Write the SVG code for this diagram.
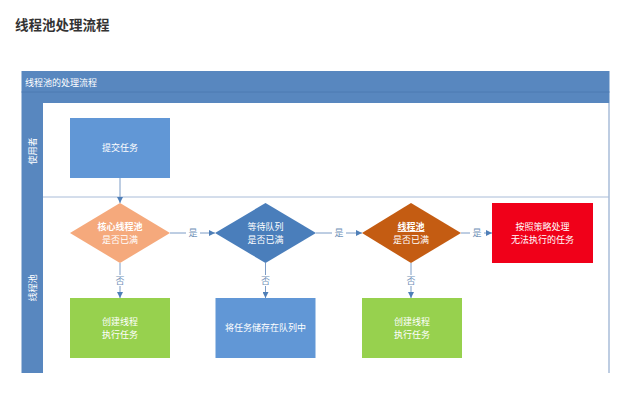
<svg xmlns="http://www.w3.org/2000/svg" width="621" height="411" viewBox="0 0 621 411">
<defs>
<style>
text{font-family:"Noto Sans CJK SC","Noto Sans",sans-serif;}
.t{font-size:9px;fill:#ffffff;text-anchor:middle;}
.lbl{font-size:9px;fill:#6f8fb8;text-anchor:middle;}
.c{stroke:#7d9cc6;stroke-width:1;fill:none;}
</style>
<marker id="ah" viewBox="0 0 10 10" refX="10" refY="5" markerWidth="6" markerHeight="6" orient="auto" markerUnits="userSpaceOnUse">
<path d="M0,0 L10,5 L0,10 z" fill="#4f7fb8"/>
</marker>
</defs>
<rect width="621" height="411" fill="#ffffff"/>
<text x="15" y="30" style="font-size:13.5px;font-weight:bold;fill:#333333">线程池处理流程</text>
<g id="frame">
<rect x="21.5" y="71" width="588" height="32" fill="#5887bf"/>
<line x1="21.5" y1="92" x2="609.5" y2="92" stroke="#4d7ab2" stroke-width="1"/>
<text x="25" y="85.5" style="font-size:9px;fill:#ffffff">线程池的处理流程</text>
<rect x="21.5" y="103" width="21.5" height="270" fill="#5887bf"/>
<line x1="609" y1="103" x2="609" y2="373" stroke="#a9bcd8" stroke-width="1.5"/>
<line x1="43" y1="197" x2="609" y2="197" stroke="#a9bcd8" stroke-width="1"/>
<text class="t" transform="translate(35.5,151) rotate(-90)">使用者</text>
<text class="t" transform="translate(35.5,288) rotate(-90)">线程池</text>
</g>
<g id="connectors">
<line class="c" x1="120" y1="178" x2="120" y2="203" marker-end="url(#ah)"/>
<path class="c" d="M170,233 H186 M200,233 H215" marker-end="url(#ah)"/>
<text class="lbl" x="193" y="236">是</text>
<path class="c" d="M316,233 H332 M346,233 H362" marker-end="url(#ah)"/>
<text class="lbl" x="339" y="236">是</text>
<path class="c" d="M461,233 H470 M484,233 H492" marker-end="url(#ah)"/>
<text class="lbl" x="477" y="236">是</text>
<path class="c" d="M120,263 V275 M120,286 V298" marker-end="url(#ah)"/>
<text class="lbl" x="120" y="284">否</text>
<path class="c" d="M265.5,263 V275 M265.5,286 V298" marker-end="url(#ah)"/>
<text class="lbl" x="265.5" y="284">否</text>
<path class="c" d="M411,263 V275 M411,286 V298" marker-end="url(#ah)"/>
<text class="lbl" x="411" y="284">否</text>
</g>
<g id="submit">
<rect x="70" y="118" width="100" height="60" fill="#6197d6"/>
<text class="t" x="120" y="151">提交任务</text>
</g>
<g id="d1">
<polygon points="120,203 170,233 120,263 70,233" fill="#f5a97c"/>
<text class="t" x="120" y="230" style="font-weight:bold">核心线程池</text>
<text class="t" x="120" y="243">是否已满</text>
</g>
<g id="d2">
<polygon points="265.5,203 316,233 265.5,263 215,233" fill="#4a7ebb"/>
<text class="t" x="265.5" y="230">等待队列</text>
<text class="t" x="265.5" y="243">是否已满</text>
</g>
<g id="d3">
<polygon points="411,203 461,233 411,263 362,233" fill="#c45c12"/>
<text class="t" x="411" y="230" style="font-weight:bold;text-decoration:underline">线程池</text>
<text class="t" x="411" y="243">是否已满</text>
</g>
<g id="reject">
<rect x="492" y="203" width="101" height="60" fill="#f00019"/>
<text class="t" x="542.5" y="230">按照策略处理</text>
<text class="t" x="542.5" y="243">无法执行的任务</text>
</g>
<g id="create1">
<rect x="70" y="298" width="100" height="60" fill="#97d14e"/>
<text class="t" x="120" y="325">创建线程</text>
<text class="t" x="120" y="338">执行任务</text>
</g>
<g id="queue">
<rect x="215.5" y="298" width="100" height="60" fill="#6197d6"/>
<text class="t" x="265.5" y="331">将任务储存在队列中</text>
</g>
<g id="create2">
<rect x="362" y="298" width="100" height="60" fill="#97d14e"/>
<text class="t" x="412" y="325">创建线程</text>
<text class="t" x="412" y="338">执行任务</text>
</g>
</svg>
